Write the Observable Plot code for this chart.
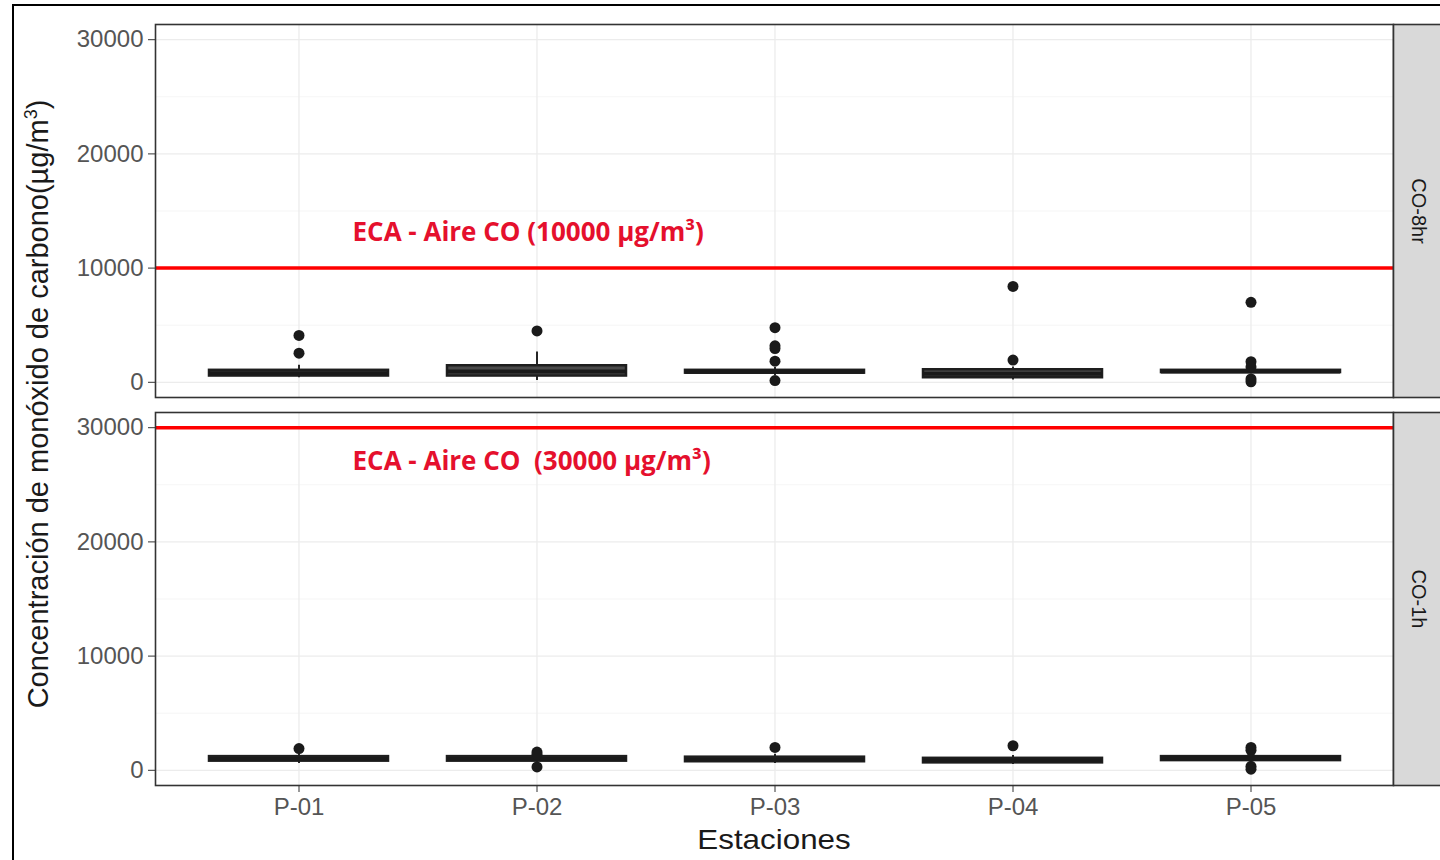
<!DOCTYPE html>
<html>
<head>
<meta charset="utf-8">
<script src="https://cdn.jsdelivr.net/npm/d3@7"></script>
<script src="https://cdn.jsdelivr.net/npm/@observablehq/plot@0.6"></script>
<style>
  html, body { margin: 0; padding: 0; background: #fff; }
  #wrap { position: relative; width: 1440px; height: 860px; overflow: hidden; background: #fff; }
  #chart { position: absolute; left: 0; top: 0; }
  #border { position: absolute; left: 12px; top: 4px; width: 1500px; height: 1000px; border: 2px solid #000; pointer-events: none; }
  .ytitle { position: absolute; left: 38px; top: 404px; transform: translate(-50%, -50%) rotate(-90deg);
            font-family: "Liberation Sans", Arial, sans-serif; font-size: 29px; color: #1a1a1a; white-space: nowrap; }
  .ytitle sup { font-size: 18px; }
  .xtitle { position: absolute; left: 774px; top: 840px; transform: translate(-50%, -50%) scaleX(1.12);
            font-family: "Liberation Sans", Arial, sans-serif; font-size: 28px; color: #1a1a1a; white-space: nowrap; }
</style>
</head>
<body>
<div id="wrap">
  <div id="chart"></div>
  <div class="ytitle">Concentración de monóxido de carbono(µg/m<sup>3</sup>)</div>
  <div class="xtitle">Estaciones</div>
  <div id="border"></div>
</div>
<script>
// ---- data ----
const stations = ["P-01", "P-02", "P-03", "P-04", "P-05"];
const metrics = ["CO-8hr", "CO-1h"];

// CO-8hr box statistics (µg/m³)
const lo8  = [400, 150, 600, 200, 750];
const q1_8 = [550, 550, 800, 400, 850];
const md8  = [800, 950, 920, 750, 950];
const q3_8 = [1050, 1450, 1050, 1100, 1050];
const hi8  = [1500, 2650, 1300, 1350, 1250];
const out8 = [[4100, 2550], [4500], [4780, 3200, 2950, 1850, 150], [8400, 1950], [7000, 1800, 1350, 300, 50]];

// CO-1h box statistics (µg/m³)
const lo1  = [600, 600, 600, 500, 700];
const q1_1 = [800, 800, 750, 650, 850];
const md1  = [1000, 1000, 950, 850, 1050];
const q3_1 = [1200, 1200, 1150, 1050, 1200];
const hi1  = [1450, 1350, 1400, 1300, 1450];
const out1 = [[1900], [1600, 1400, 300], [2000], [2150], [2000, 1750, 350, 100]];

// ECA limits
const limitValues = [10000, 30000];
const limitLabels = ["ECA - Aire CO (10000 µg/m³)", "ECA - Aire CO  (30000 µg/m³)"];
const labelValues = [13100, 27000];

const yTicks = [0, 10000, 20000, 30000];
const yMinor = [5000, 15000, 25000];

// ---- build tables ----
const boxes = [];
const outliers = [];
stations.forEach((s, i) => {
  boxes.push({metric: "CO-8hr", station: s, lo: lo8[i], q1: q1_8[i], med: md8[i], q3: q3_8[i], hi: hi8[i]});
  boxes.push({metric: "CO-1h", station: s, lo: lo1[i], q1: q1_1[i], med: md1[i], q3: q3_1[i], hi: hi1[i]});
  out8[i].forEach(v => outliers.push({metric: "CO-8hr", station: s, value: v}));
  out1[i].forEach(v => outliers.push({metric: "CO-1h", station: s, value: v}));
});
const limits = metrics.map((m, i) => ({metric: m, value: limitValues[i], label: limitLabels[i], ly: labelValues[i]}));

const W = 1440, H = 860, ML = 155, MR = 47, MT = 24, MB = 74;

const chart = Plot.plot({
  width: W, height: H,
  marginLeft: ML, marginRight: MR, marginTop: MT, marginBottom: MB,
  style: {fontFamily: "Liberation Sans, Arial, sans-serif", fontSize: "24px", color: "#4d4d4d", background: "transparent"},
  x: {type: "band", domain: stations, paddingInner: 0.25, paddingOuter: 0.225, align: 0.5, label: null},
  y: {domain: [-1330, 31330], label: null},
  fy: {domain: metrics, paddingInner: 0.0386, paddingOuter: 0, label: null},
  marks: [
    Plot.gridY(yMinor, {stroke: "#f2f2f2", strokeOpacity: 1, strokeWidth: 0.8}),
    Plot.gridY(yTicks, {stroke: "#ececec", strokeOpacity: 1, strokeWidth: 1.3}),
    Plot.gridX(stations, {stroke: "#ececec", strokeOpacity: 1, strokeWidth: 1.3}),
    Plot.ruleY(limits, {y: "value", fy: "metric", stroke: "#ff0000", strokeWidth: 3.5}),
    Plot.text(limits, {y: "ly", fy: "metric", text: "label", frameAnchor: "left", dx: 197, textAnchor: "start",
      fill: "#e5102d", fontFamily: "'Open Sans', Lato, sans-serif", fontWeight: "bold", fontSize: 26}),
    Plot.ruleX(boxes, {x: "station", y1: "lo", y2: "q1", fy: "metric", stroke: "#262626", strokeWidth: 2}),
    Plot.ruleX(boxes, {x: "station", y1: "q3", y2: "hi", fy: "metric", stroke: "#262626", strokeWidth: 2}),
    Plot.barY(boxes, {x: "station", y1: "q1", y2: "q3", fy: "metric", fill: "#4a4a4a", stroke: "#1e1e1e", strokeWidth: 2.5}),
    Plot.tickY(boxes, {x: "station", y: "med", fy: "metric", stroke: "#1a1a1a", strokeWidth: 4}),
    Plot.dot(outliers, {x: "station", y: "value", fy: "metric", r: 5.5, fill: "#1a1a1a", stroke: "none"}),
    Plot.frame({stroke: "#333", strokeWidth: 1.6}),
    Plot.frame({fill: "#d9d9d9", stroke: "#333", strokeWidth: 1.6, insetLeft: W - ML - MR, insetRight: -52}),
    Plot.axisY(yTicks, {anchor: "left", tickSize: 7, tickPadding: 5, tickFormat: d => String(d), stroke: "#333", fill: "#555", label: null}),
    Plot.axisX({anchor: "bottom", tickSize: 7, tickPadding: 5, stroke: "#333", fill: "#555", label: null}),
    Plot.axisFy({anchor: "right", tickSize: 0, tickPadding: 0, dx: 25, rotate: 90, textAnchor: "middle", fill: "#1a1a1a", fontSize: 20, label: null})
  ]
});
document.getElementById("chart").appendChild(chart);
</script>
</body>
</html>
